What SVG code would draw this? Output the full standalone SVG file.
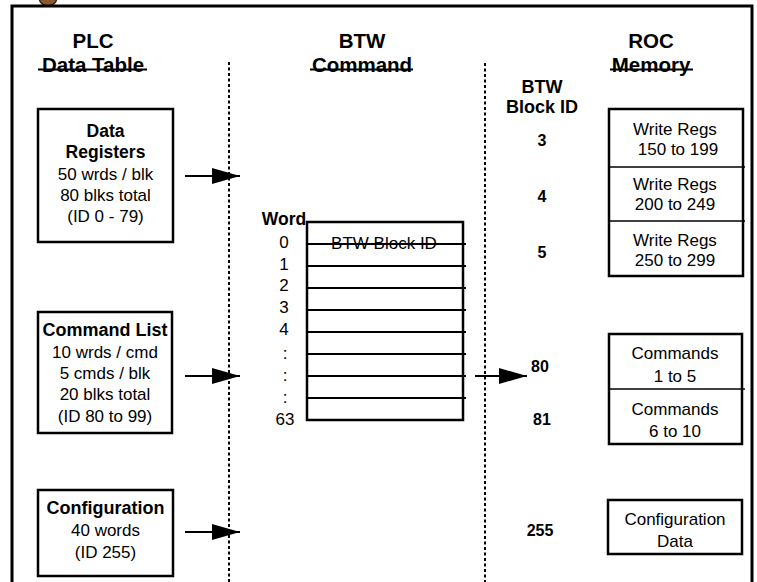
<svg xmlns="http://www.w3.org/2000/svg" width="757" height="582" viewBox="0 0 757 582">
<style>
text{font-family:"Liberation Sans",Arial,sans-serif;fill:#000}
.hd{font-size:20.5px;font-weight:bold;text-anchor:middle}
.b{font-size:17.5px;font-weight:bold;text-anchor:middle}
.bt{font-size:18px;font-weight:bold;text-anchor:middle}
.r{font-size:17px;text-anchor:middle}
.id{font-size:16px;font-weight:bold;text-anchor:middle}
.box{fill:#fff;stroke:#000;stroke-width:2.5}
.div{stroke:#000;stroke-width:1.5}
.dot{stroke:#000;stroke-width:2;stroke-dasharray:3 2.5;fill:none}
.ul{stroke:#000;stroke-width:2}
.conn{stroke:#000;stroke-width:2;fill:none}
.tl{stroke:#000;stroke-width:2}
</style>
<defs>
<marker id="ah" markerWidth="28" markerHeight="16" refX="28" refY="8" orient="auto" markerUnits="userSpaceOnUse">
<path d="M0,0 L28,8 L0,16 Z" fill="#000"/>
</marker>
</defs>
<rect width="757" height="582" fill="#fff"/>
<circle cx="48" cy="-3" r="9" fill="#8a5a2e" stroke="#3a2410" stroke-width="1.5"/>
<path d="M12,583 V6 H752 V583" fill="none" stroke="#000" stroke-width="3"/>

<g id="headers">
<text class="hd" x="93" y="48">PLC</text>
<text class="hd" x="93" y="72">Data Table</text>
<line class="ul" x1="38" y1="69.5" x2="147" y2="69.5"/>
<text class="hd" x="362" y="48">BTW</text>
<text class="hd" x="362" y="72">Command</text>
<line class="ul" x1="310" y1="69.5" x2="413" y2="69.5"/>
<text class="hd" x="651" y="48">ROC</text>
<text class="hd" x="651" y="72">Memory</text>
<line class="ul" x1="610" y1="69.5" x2="693" y2="69.5"/>
<text class="bt" x="542" y="93">BTW</text>
<text class="bt" x="542" y="113">Block ID</text>
</g>

<g id="separators">
<line class="dot" x1="229" y1="62" x2="229" y2="582"/>
<line class="dot" x1="485" y1="63" x2="485" y2="582"/>
</g>

<g id="data-registers">
<rect class="box" x="38" y="109" width="135" height="133"/>
<text class="b" x="105.5" y="137">Data</text>
<text class="b" x="105.5" y="158">Registers</text>
<text class="r" x="105.5" y="180">50 wrds / blk</text>
<text class="r" x="105.5" y="201">80 blks total</text>
<text class="r" x="105.5" y="222">(ID 0 - 79)</text>
</g>

<g id="command-list">
<rect class="box" x="38" y="312" width="134" height="121"/>
<text class="bt" x="105" y="336">Command List</text>
<text class="r" x="105" y="358">10 wrds / cmd</text>
<text class="r" x="105" y="379">5 cmds / blk</text>
<text class="r" x="105" y="400">20 blks total</text>
<text class="r" x="105" y="422">(ID 80 to 99)</text>
</g>

<g id="configuration">
<rect class="box" x="38" y="490" width="135" height="86"/>
<text class="bt" x="105.5" y="514">Configuration</text>
<text class="r" x="105.5" y="536">40 words</text>
<text class="r" x="105.5" y="558">(ID 255)</text>
</g>

<g id="btw-table">
<rect class="box" x="307" y="222" width="156" height="198"/>
<line class="tl" x1="307" y1="244" x2="466" y2="244"/>
<line class="tl" x1="307" y1="266" x2="466" y2="266"/>
<line class="tl" x1="307" y1="288" x2="466" y2="288"/>
<line class="tl" x1="307" y1="310" x2="466" y2="310"/>
<line class="tl" x1="307" y1="332" x2="466" y2="332"/>
<line class="tl" x1="307" y1="354" x2="466" y2="354"/>
<line class="tl" x1="307" y1="376" x2="466" y2="376"/>
<line class="tl" x1="307" y1="398" x2="466" y2="398"/>
<text class="r" x="384" y="249">BTW Block ID</text>
<text class="b" x="284" y="225">Word</text>
<text class="r" x="284" y="248">0</text>
<text class="r" x="284" y="270">1</text>
<text class="r" x="284" y="291">2</text>
<text class="r" x="284" y="313">3</text>
<text class="r" x="284" y="335">4</text>
<text class="r" x="285" y="359">:</text>
<text class="r" x="285" y="381">:</text>
<text class="r" x="285" y="403">:</text>
<text class="r" x="285" y="425">63</text>
</g>

<g id="block-ids">
<text class="id" x="542" y="146">3</text>
<text class="id" x="542" y="202">4</text>
<text class="id" x="542" y="258">5</text>
<text class="id" x="540" y="372">80</text>
<text class="id" x="542" y="425">81</text>
<text class="id" x="540" y="536">255</text>
</g>

<g id="write-regs">
<rect class="box" x="609" y="109" width="134" height="167"/>
<line class="div" x1="609" y1="167" x2="745" y2="167"/>
<line class="div" x1="609" y1="221" x2="745" y2="221"/>
<text class="r" x="675" y="135">Write Regs</text>
<text class="r" x="678" y="155">150 to 199</text>
<text class="r" x="675" y="190">Write Regs</text>
<text class="r" x="675" y="210">200 to 249</text>
<text class="r" x="675" y="246">Write Regs</text>
<text class="r" x="675" y="266">250 to 299</text>
</g>

<g id="commands">
<rect class="box" x="609" y="334" width="133" height="110"/>
<line class="div" x1="609" y1="389" x2="745" y2="389"/>
<text class="r" x="675" y="359">Commands</text>
<text class="r" x="675" y="382">1 to 5</text>
<text class="r" x="675" y="415">Commands</text>
<text class="r" x="675" y="437">6 to 10</text>
</g>

<g id="config-data">
<rect class="box" x="608" y="500" width="134" height="54"/>
<text class="r" x="675" y="525">Configuration</text>
<text class="r" x="675" y="547">Data</text>
</g>

<g id="connectors">
<line class="conn" x1="185" y1="176" x2="240" y2="176" marker-end="url(#ah)"/>
<line class="conn" x1="185" y1="376" x2="240" y2="376" marker-end="url(#ah)"/>
<line class="conn" x1="185" y1="532" x2="240" y2="532" marker-end="url(#ah)"/>
<line class="conn" x1="475" y1="376" x2="527" y2="376" marker-end="url(#ah)"/>
</g>
</svg>
